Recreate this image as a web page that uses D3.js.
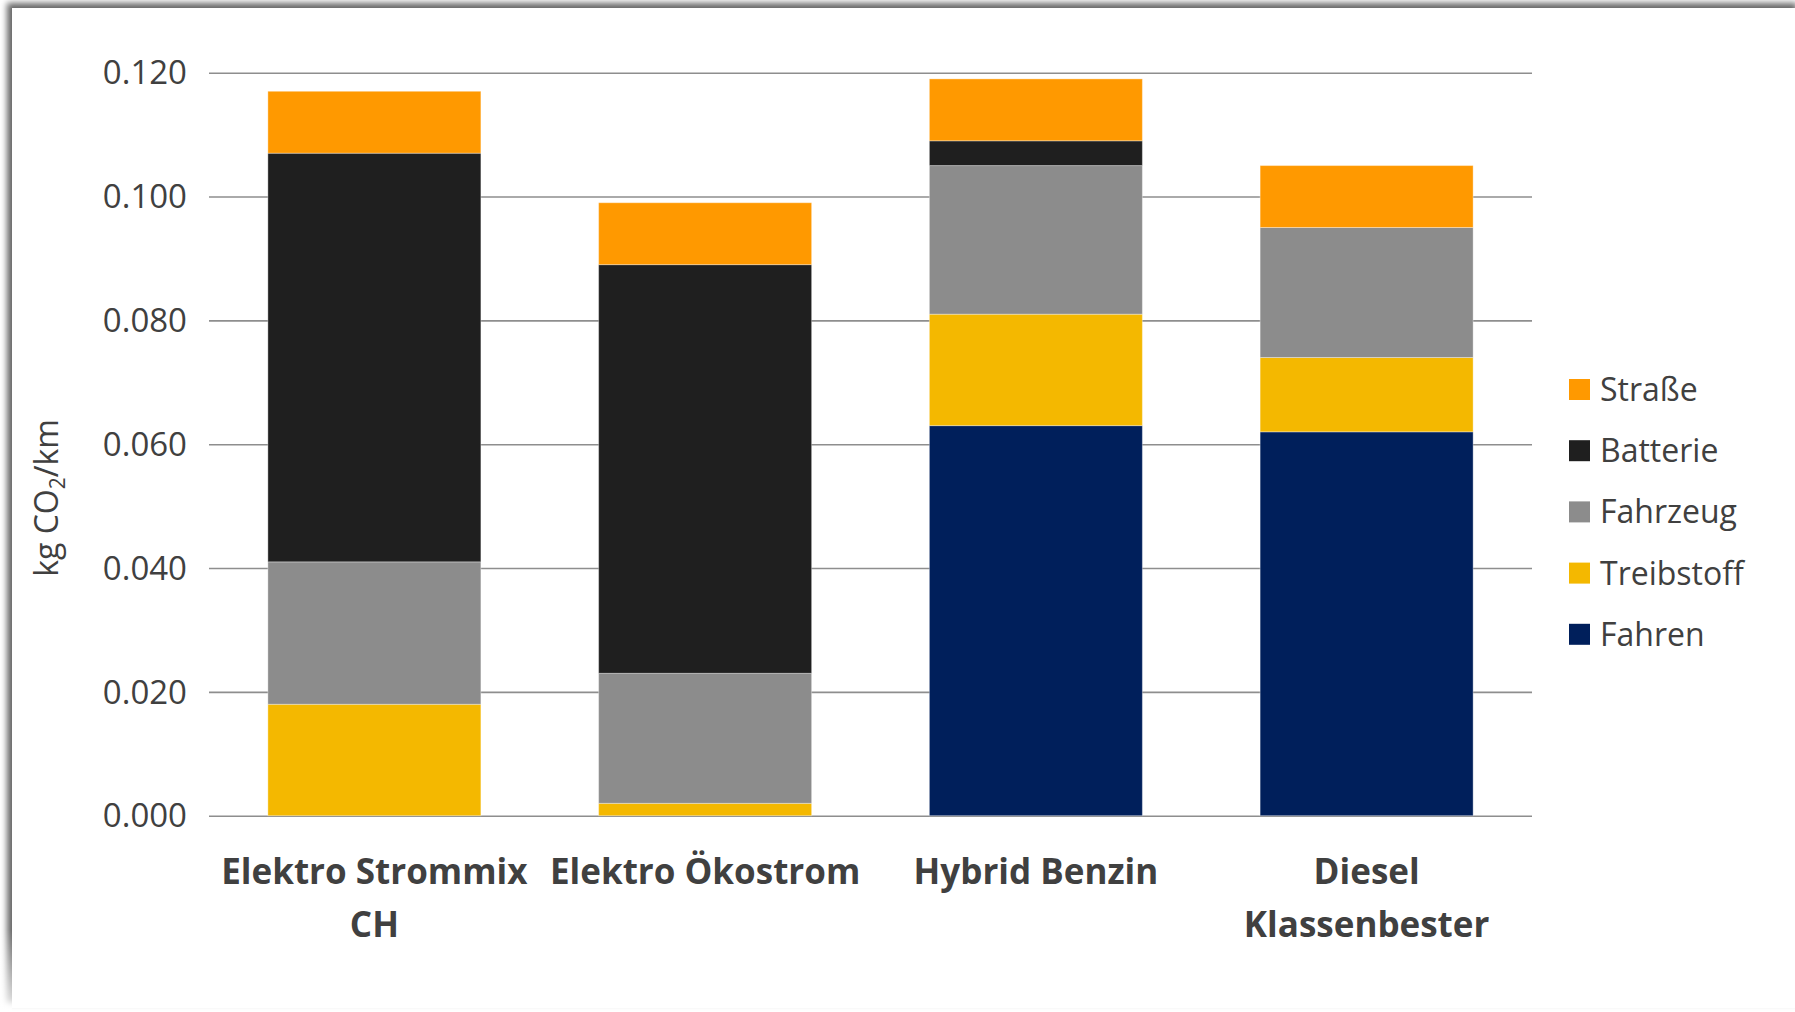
<!DOCTYPE html>
<html lang="de">
<head>
<meta charset="utf-8">
<title>CO2-Emissionen pro km</title>
<script src="https://cdn.jsdelivr.net/npm/d3@7"></script>
<style>
  html, body { margin: 0; padding: 0; background: #ffffff; }
  svg { display: block; }
  text { font-family: "Open Sans", "Noto Sans", sans-serif; fill: #404040; }
</style>
</head>
<body>
<svg id="chart" width="1795" height="1012"></svg>
<script>
// Vehicle types on the x axis
const categories = ["Elektro Strommix CH", "Elektro Ökostrom", "Hybrid Benzin", "Diesel Klassenbester"];

// Emission components in kg CO2 per km, stacked bottom to top
const fahren     = [0.000, 0.000, 0.063, 0.062];
const treibstoff = [0.018, 0.002, 0.018, 0.012];
const fahrzeug   = [0.023, 0.021, 0.024, 0.021];
const batterie   = [0.066, 0.066, 0.004, 0.000];
const strasse    = [0.010, 0.010, 0.010, 0.010];

const seriesNames  = ["Fahren", "Treibstoff", "Fahrzeug", "Batterie", "Straße"];
const seriesColors = ["#001F5B", "#F4B800", "#8C8C8C", "#1F1F1F", "#FF9900"];
const legendOrder  = ["Straße", "Batterie", "Fahrzeug", "Treibstoff", "Fahren"];

const yTicks = [0.000, 0.020, 0.040, 0.060, 0.080, 0.100, 0.120];

const svg = d3.select("#chart");
const W = 1795, H = 1012;

// Panel with a soft shadow on its upper and left edges
const defs = svg.append("defs");
const f = defs.append("filter").attr("id", "panelShadow")
  .attr("x", "-5%").attr("y", "-5%").attr("width", "110%").attr("height", "110%");
f.append("feDropShadow").attr("dx", -5).attr("dy", -5)
  .attr("stdDeviation", 3).attr("flood-color", "#000").attr("flood-opacity", 0.6);

// Fade of the left shadow towards the bottom edge
const fade = defs.append("linearGradient").attr("id", "bottomFade")
  .attr("x1", 0).attr("y1", 0).attr("x2", 0).attr("y2", 1);
fade.append("stop").attr("offset", "0%").attr("stop-color", "#fff").attr("stop-opacity", 0);
fade.append("stop").attr("offset", "100%").attr("stop-color", "#fff").attr("stop-opacity", 0.85);

svg.append("rect").attr("x", 0).attr("y", 0).attr("width", W).attr("height", H).attr("fill", "#fff");
svg.append("rect")
  .attr("x", 12).attr("y", 8).attr("width", 1790).attr("height", 1000)
  .attr("fill", "#fff").attr("filter", "url(#panelShadow)");
svg.append("rect")
  .attr("x", 0).attr("y", 930).attr("width", 12).attr("height", 82)
  .attr("fill", "url(#bottomFade)");

// Plot area
const plot = { left: 209, right: 1532, top: 72.7, bottom: 815.7 };

const table = categories.map((c, i) => ({
  category: c,
  "Fahren": fahren[i],
  "Treibstoff": treibstoff[i],
  "Fahrzeug": fahrzeug[i],
  "Batterie": batterie[i],
  "Straße": strasse[i]
}));

const x = d3.scaleBand()
  .domain(categories)
  .range([plot.left, plot.right])
  .paddingInner(0.356)
  .paddingOuter(0.178);

const y = d3.scaleLinear()
  .domain([0, 0.12])
  .range([plot.bottom, plot.top]);

const color = d3.scaleOrdinal().domain(seriesNames).range(seriesColors);

// Horizontal gridlines
const grid = svg.append("g")
  .attr("transform", `translate(${plot.left},0)`)
  .call(d3.axisLeft(y).tickValues(yTicks).tickSize(-(plot.right - plot.left)).tickFormat(""));
grid.select(".domain").remove();
grid.selectAll("line").attr("stroke", "#8E8E8E").attr("stroke-width", 1.6);

// Y tick labels
const yAxis = svg.append("g")
  .attr("transform", `translate(${plot.left},0)`)
  .call(d3.axisLeft(y).tickValues(yTicks).tickFormat(d3.format(".3f")).tickSize(0).tickPadding(22));
yAxis.select(".domain").remove();
yAxis.selectAll("text")
  .attr("font-size", 33)
  .attr("font-family", "\"Open Sans\", sans-serif")
  .attr("fill", "#404040")
  .attr("dy", "0.34em");

// Stacked bars
const stack = d3.stack().keys(seriesNames);
const layers = stack(table);

svg.append("g")
  .selectAll("g")
  .data(layers)
  .join("g")
  .attr("fill", d => color(d.key))
  .selectAll("rect")
  .data(d => d.filter(s => s[1] - s[0] > 0))
  .join("rect")
  .attr("x", d => x(d.data.category))
  .attr("width", x.bandwidth())
  .attr("y", d => y(d[1]))
  .attr("height", d => y(d[0]) - y(d[1]))
  .attr("stroke", "rgba(255,255,255,0.35)")
  .attr("stroke-width", 1);

// Category labels, wrapped to the band width
const catG = svg.append("g");
categories.forEach(c => {
  const t = catG.append("text")
    .attr("text-anchor", "middle")
    .attr("font-size", 35)
    .attr("font-weight", "bold")
    .attr("fill", "#404040");
  const cx = x(c) + x.bandwidth() / 2;
  const words = c.split(" ");
  const maxW = x.step();
  let lines = [];
  let cur = [];
  const probe = t.append("tspan");
  words.forEach(w => {
    const trial = cur.concat([w]).join(" ");
    probe.text(trial);
    if (probe.node().getComputedTextLength() > maxW && cur.length) {
      lines.push(cur.join(" "));
      cur = [w];
    } else {
      cur.push(w);
    }
  });
  lines.push(cur.join(" "));
  probe.remove();
  lines.forEach((ln, i) => {
    t.append("tspan").attr("x", cx).attr("y", 884 + i * 53).text(ln);
  });
});

// Y axis title
const yTitle = svg.append("text")
  .attr("transform", "translate(58,498) rotate(-90)")
  .attr("text-anchor", "middle")
  .attr("font-size", 32)
  .attr("fill", "#404040");
yTitle.append("tspan").text("kg CO");
yTitle.append("tspan").attr("font-size", 21).attr("dy", 7).text("2");
yTitle.append("tspan").attr("dy", -7).text("/km");

// Legend
const legend = svg.append("g")
  .selectAll("g")
  .data(legendOrder)
  .join("g")
  .attr("transform", (d, i) => `translate(1569,${379 + i * 61.2})`);
legend.append("rect")
  .attr("width", 21).attr("height", 21)
  .attr("fill", d => color(d));
legend.append("text")
  .attr("x", 31).attr("y", 22)
  .attr("font-size", 32)
  .attr("fill", "#404040")
  .text(d => d);
</script>
</body>
</html>
